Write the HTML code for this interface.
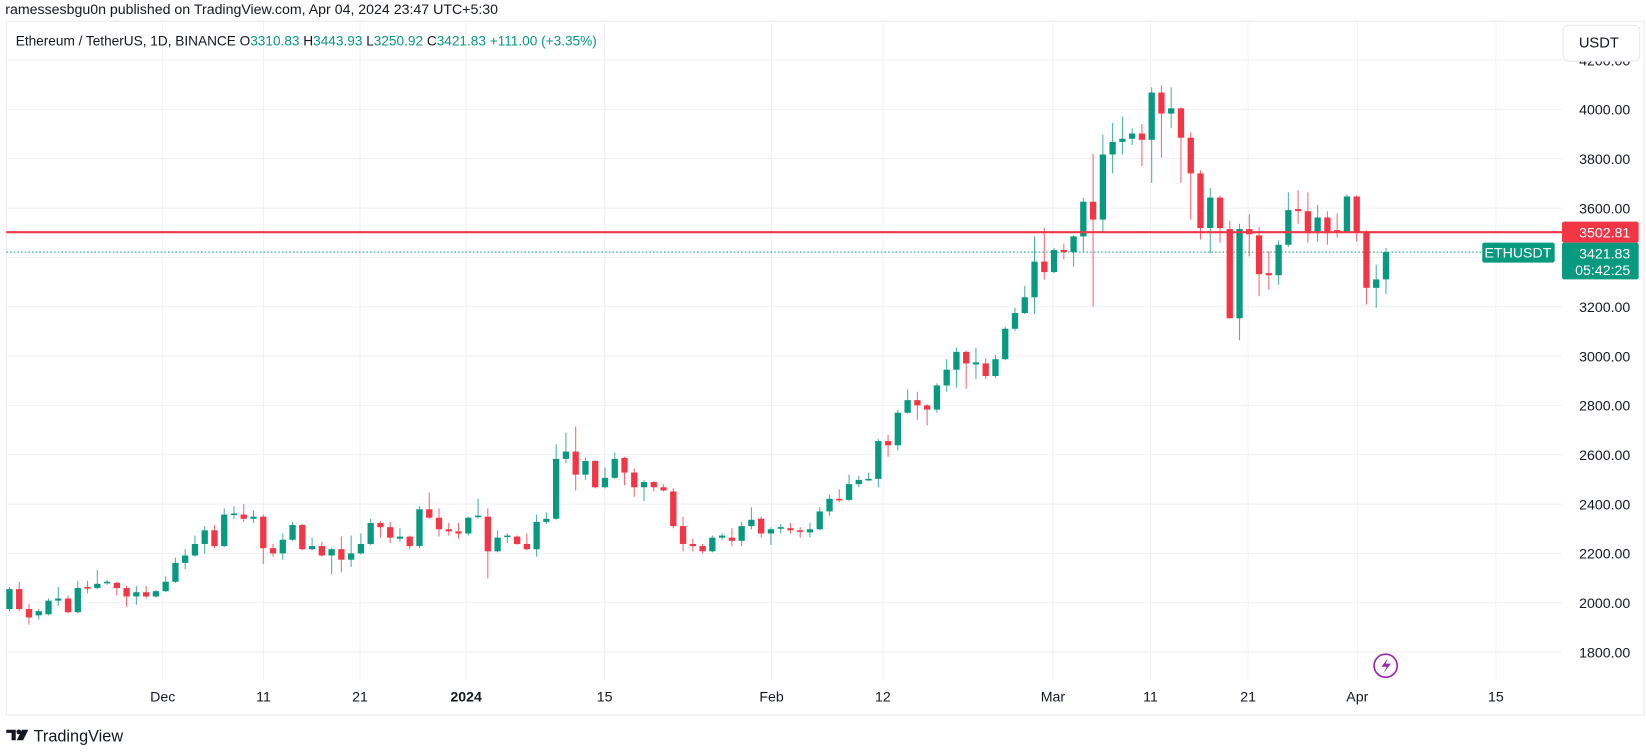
<!DOCTYPE html>
<html><head><meta charset="utf-8"><style>
html,body{margin:0;padding:0;background:#fff;}
svg{display:block;}
text{font-family:"Liberation Sans",Arial,sans-serif;}
</style></head><body>
<svg id="c" width="1646" height="752" viewBox="0 0 1568 716" xmlns="http://www.w3.org/2000/svg">
<rect width="1568" height="716" fill="#fff"/>
<g id="grid"></g>
<line x1="6" y1="20" x2="1566" y2="20" stroke="#e9ebf0" stroke-width="1"/>
<line x1="6" y1="681" x2="1566" y2="681" stroke="#e9ebf0" stroke-width="1"/>
<line x1="6" y1="20" x2="6" y2="681" stroke="#e9ebf0" stroke-width="1"/>
<line x1="1566" y1="20" x2="1566" y2="681" stroke="#e9ebf0" stroke-width="1"/>
<line x1="6" y1="240" x2="1412" y2="240" stroke="#089981" stroke-width="1" stroke-dasharray="1.5,2"/>
<g id="candles"></g>
<line x1="6" y1="221" x2="1488" y2="221" stroke="#f23645" stroke-width="2"/>
<text x="5" y="13" font-size="13.5" fill="#131722">ramessesbgu0n published on TradingView.com, Apr 04, 2024 23:47 UTC+5:30</text>
<text x="15" y="43" font-size="13" fill="#131722">Ethereum / TetherUS, 1D, BINANCE <tspan fill="#131722">O</tspan><tspan fill="#089981">3310.83</tspan> <tspan fill="#131722">H</tspan><tspan fill="#089981">3443.93</tspan> <tspan fill="#131722">L</tspan><tspan fill="#089981">3250.92</tspan> <tspan fill="#131722">C</tspan><tspan fill="#089981">3421.83 +111.00 (+3.35%)</tspan></text>
<g id="axis" font-size="13.5" fill="#131722" text-anchor="end"></g>
<rect x="1489" y="24" width="73" height="34" rx="5" fill="#fff" stroke="#e6e8ec"/>
<text x="1504" y="45" font-size="14" fill="#131722">USDT</text>
<rect x="1488" y="211" width="73" height="20" rx="2" fill="#f23645"/>
<text x="1553" y="226" font-size="13.5" fill="#fff" text-anchor="end">3502.81</text>
<rect x="1488" y="231" width="73" height="35" rx="2" fill="#089981"/>
<text x="1553" y="246" font-size="13.5" fill="#fff" text-anchor="end">3421.83</text>
<text x="1553" y="262" font-size="13.5" fill="#fff" text-anchor="end">05:42:25</text>
<rect x="1412" y="231" width="69" height="19" rx="2" fill="#089981"/>
<text x="1446" y="245" font-size="13.5" fill="#fff" text-anchor="middle">ETHUSDT</text>
<circle cx="1320" cy="634" r="11" fill="#fff" stroke="#9c27b0" stroke-width="1.6"/>
<path d="M1322 627 L1316 635 L1321 635 L1318 641 L1325 632 L1320 632 Z" fill="#9c27b0"/>
<g id="dates" font-size="13.5" fill="#131722" text-anchor="middle"></g>
<g transform="translate(6,693)">
<path d="M0 2 H9 V12 H5 V5 H0 Z" fill="#131722"/>
<circle cx="12" cy="4" r="2.3" fill="#131722"/>
<path d="M15 2 H21 L16 12 H10 Z" fill="#131722"/>
</g>
<text x="32" y="706" font-size="15.5" fill="#131722">TradingView</text>
</svg>
<script>
var NS="http://www.w3.org/2000/svg";
function el(p,n,a){var e=document.createElementNS(NS,n);for(var k in a)e.setAttribute(k,a[k]);p.appendChild(e);return e;}
var grid=document.getElementById('grid'),axis=document.getElementById('axis'),dates=document.getElementById('dates');
for(var p=4200;p>=1800;p-=200){var y=104+(4000-p)*0.235;
 el(grid,'line',{x1:6,y1:y,x2:1488,y2:y,stroke:'#f0f1f4','stroke-width':1});
 var t=el(axis,'text',{x:1553,y:y+5});t.textContent=p.toFixed(2);}
var vx=[[155,'Dec'],[251,'11'],[343,'21'],[444,'2024'],[576,'15'],[735,'Feb'],[841,'12'],[1003,'Mar'],[1096,'11'],[1189,'21'],[1293,'Apr'],[1425,'15']];
vx.forEach(function(v){el(grid,'line',{x1:v[0],y1:20,x2:v[0],y2:648,stroke:'#f0f1f4','stroke-width':1});
 var t=el(dates,'text',{x:v[0],y:668});t.textContent=v[1];if(v[1]=='2024')t.setAttribute('font-weight','bold');});
var D=`G 561 580 559 582
R 561 580 554 582
R 580 588 575 595
G 582 586 580 590
G 572 585 570 586
G 570 572 559 577
R 570 583 567 584
G 560 583 553 584
R 559 560 553 565
G 556 560 543 561
G 554 555 552 557
R 555 560 554 567
R 560 568 558 578
G 564 568 558 576
R 564 568 558 570
G 563 568 562 569
G 554 563 549 564
G 536 554 531 555
G 529 536 523 542
G 518 529 510 530
G 505 518 501 527
R 505 520 500 522
G 490 520 484 521
G 489 490 482 494
R 490 494 480 497
G 492 494 486 498
R 492 522 490 537
R 522 527 518 530
G 514 527 508 533
G 500 514 497 515
R 500 523 499 524
G 520 523 512 524
R 520 529 516 530
G 523 529 522 547
R 523 533 511 545
G 527 533 510 540
G 518 527 508 528
G 498 518 494 519
R 498 502 496 512
R 502 512 497 517
G 511 513 503 516
R 511 520 510 523
G 485 520 482 522
R 485 493 469 494
R 493 504 484 511
R 504 506 498 510
R 506 508 498 513
G 493 508 492 510
G 491 492 475 494
R 492 525 484 551
G 512 525 505 526
G 510 511 508 517
R 511 518 510 519
R 518 523 508 524
G 497 523 490 530
G 494 497 488 499
G 437 494 423 495
G 430 437 412 441
R 430 452 406 467
G 439 452 436 457
R 439 464 438 465
G 455 464 445 465
G 437 455 431 456
R 436 450 435 462
R 450 464 446 473
G 459 464 457 477
R 459 464 458 468
R 464 467 461 468
R 468 501 465 503
R 501 518 492 525
R 518 520 513 525
R 520 525 518 527
G 512 525 510 526
G 510 512 508 514
R 512 515 503 520
G 501 515 497 520
G 495 501 483 504
R 494 508 492 512
G 504 508 502 519
G 502 503 499 508
R 503 505 498 508
R 505 506 502 512
G 504 507 498 512
G 487 504 483 505
G 475 487 471 491
R 475 476 466 478
G 461 476 452 477
G 457 461 453 464
G 456 457 450 458
G 420 456 418 464
R 420 424 414 435
G 393 424 390 429
G 381 393 371 394
R 381 386 373 400
R 386 390 385 405
G 367 390 365 393
G 352 367 342 373
G 335 352 331 369
R 335 346 334 370
G 345 347 331 361
R 346 358 341 361
G 342 358 338 360
G 313 342 311 343
G 298 313 293 315
G 283 298 272 299
G 249 283 225 299
R 249 259 217 266
G 238 259 236 260
R 238 240 232 247
G 225 240 224 254
G 192 225 188 240
R 192 209 146 292
G 147 209 128 221
G 135 147 117 165
G 132 135 111 147
G 127 132 122 138
R 127 133 118 158
G 88 133 83 174
R 88 108 81 150
G 103 108 83 122
R 103 131 102 174
R 131 165 126 209
R 165 217 162 228
G 188 217 179 241
R 188 217 186 231
R 218 303 210 303
G 218 303 213 324
R 218 223 204 244
R 224 261 216 282
R 260 262 239 276
G 233 262 229 271
G 200 233 183 235
R 199 201 181 213
R 201 222 183 231
G 207 222 195 230
R 207 222 201 233
R 219 221 203 226
G 187 221 185 222
R 187 221 186 230
R 221 274 219 290
G 266 274 252 293
G 240 266 236 280`.split('\n');
var cg=document.getElementById('candles');
D.forEach(function(l,i){var a=l.trim().split(/\s+/);var c=a[0]=='G'?'#089981':'#f23645';
 var t=+a[1],b=+a[2],wt=+a[3],wb=+a[4];var x=9+9.3*i;
 el(cg,'line',{x1:x,y1:wt,x2:x,y2:wb,stroke:c,'stroke-width':1,'stroke-opacity':0.75});
 el(cg,'rect',{x:x-3,y:t,width:6,height:Math.max(b-t,1.5),fill:c});});
</script>
</body></html>
